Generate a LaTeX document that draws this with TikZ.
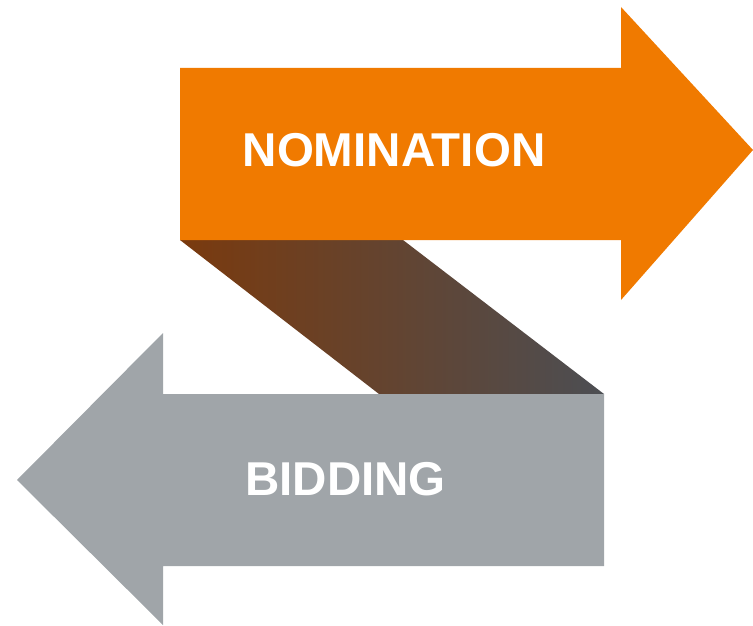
\documentclass[tikz,border=0pt]{standalone}
\usepackage{fontspec}
\setmainfont{Liberation Sans}
\usepackage{tikz}
\usetikzlibrary{positioning}

\definecolor{nomorange}{HTML}{F07A00}
\definecolor{bidgray}{HTML}{A0A5A9}
\definecolor{linkbrown}{HTML}{7A3A0E}
\definecolor{linkgray}{HTML}{4C4E53}

\tikzset{
  label/.style={text=white, font=\fontsize{47.5}{50}\selectfont\bfseries, inner sep=0pt, anchor=base}
}

\begin{document}
\begin{tikzpicture}[x=1pt, y=-1pt]
  \useasboundingbox (0,0) rectangle (753,626);
  % link between the two arrows
  \shade[left color=linkbrown, right color=linkgray]
    (180,240) -- (403,240) -- (604,394) -- (379,394) -- cycle;
  % orange arrow
  \fill[nomorange]
    (180,68) -- (621,68) -- (621,7) -- (753,150) -- (621,300) -- (621,240) -- (180,240) -- cycle;
  % gray arrow
  \fill[bidgray]
    (604,394) -- (163,394) -- (163,333) -- (17,480) -- (163,625) -- (163,566) -- (604,566) -- cycle;
  \node (nom) [label] at (394,166) {NOMINATION};
  \node (bid) [label] at (345.5,495) {BIDDING};
\end{tikzpicture}
\end{document}
